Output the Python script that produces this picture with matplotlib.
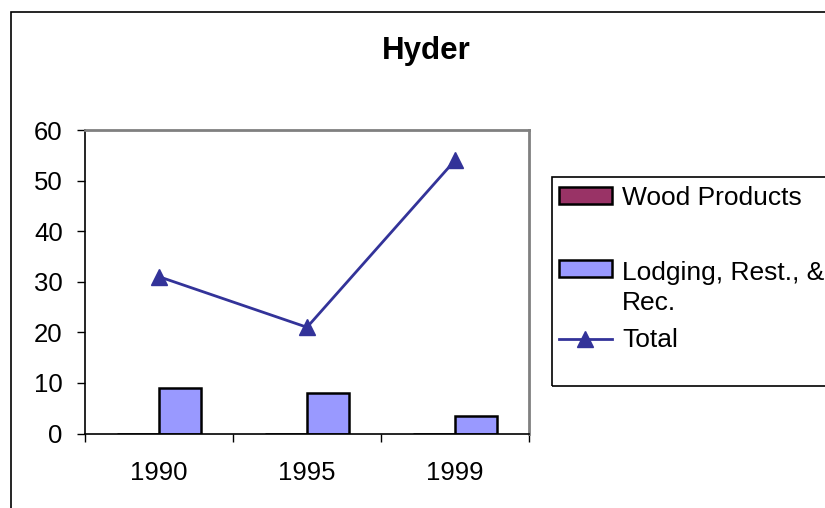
import matplotlib
matplotlib.use("Agg")
import matplotlib.pyplot as plt
from matplotlib.patches import Rectangle, Patch
from matplotlib.lines import Line2D
from matplotlib.legend_handler import HandlerPatch
import numpy as np

plt.rcParams["font.family"] = ["Liberation Sans", "DejaVu Sans"]

years = ["1990", "1995", "1999"]
wood_products = [0, 0, 0]
lodging = [9, 8, 3.5]
total = [31, 21, 54]

W, H = 825, 508
fig = plt.figure(figsize=(W / 100, H / 100), dpi=100)


def fx(px):
    return px / W


def fy(py):
    return 1 - py / H


# chart area border (runs off the right and bottom edges)
fig.patches.append(Rectangle((fx(11), -0.1), 1.2, fy(12) + 0.1, transform=fig.transFigure,
                             fill=False, edgecolor="black", linewidth=1.2))

ax = fig.add_axes([fx(85), fy(433.5), fx(529) - fx(85), fy(130) - fy(433.5)])
x = np.arange(len(years))
bw = 0.286

ax.bar(x - bw / 2, wood_products, bw, color="#993366", edgecolor="black", linewidth=1.8)
ax.bar(x + bw / 2, lodging, bw, color="#9999FF", edgecolor="black", linewidth=1.8)
ax.plot(x, total, color="#333399", linewidth=2, marker="^", markersize=12)

ax.set_xlim(-0.5, 2.5)
ax.set_ylim(0, 60)
ax.set_yticks(range(0, 61, 10))
ax.set_xticks(x)
ax.set_xticklabels(years)
ax.set_xticks([-0.5, 0.5, 1.5, 2.5], minor=True)
ax.tick_params(axis="x", which="major", length=0, pad=20, labelsize=18.5)
ax.tick_params(axis="x", which="minor", length=6, width=1, direction="out", color="black")
ax.tick_params(axis="y", which="major", length=6, width=1, direction="out", pad=10, labelsize=18.5)

for s in ["left", "bottom"]:
    ax.spines[s].set_color("black")
    ax.spines[s].set_linewidth(1.2)
for s in ["top", "right"]:
    ax.spines[s].set_color("#808080")
    ax.spines[s].set_linewidth(2)

fig.text(fx(426), fy(51), "Hyder", ha="center", va="center", fontsize=22.5, fontweight="bold")

# legend frame
fig.patches.append(Rectangle((fx(552), fy(386)), 1.0, fy(177) - fy(386), transform=fig.transFigure,
                             fill=False, edgecolor="black", linewidth=1.2))

h_wood = Patch(facecolor="#993366", edgecolor="black", linewidth=1.8)
h_lodg = Patch(facecolor="#9999FF", edgecolor="black", linewidth=1.8)
h_tot = Line2D([], [], color="#333399", linewidth=2, marker="^", markersize=12)


# Excel puts the swatch next to the first line of a wrapped label
def first_line_patch(legend, orig_handle, xdescent, ydescent, width, height, fontsize):
    return Rectangle((-xdescent, -ydescent + 14), width, height)


leg_kw = dict(frameon=False, fontsize=19, handlelength=2.0, handleheight=0.58,
              handletextpad=0.4, borderpad=0, borderaxespad=0, loc="center left")
leg1 = fig.legend([h_wood], ["Wood Products"], bbox_to_anchor=(fx(559), fy(198)), **leg_kw)
leg2 = fig.legend([h_lodg, h_tot], ["Lodging, Rest., &\nRec.", "Total"],
                  bbox_to_anchor=(fx(559), fy(306.5)), labelspacing=0.5,
                  handler_map={h_lodg: HandlerPatch(patch_func=first_line_patch)}, **leg_kw)
for t in leg2.get_texts():
    t.set_linespacing(1.35)

fig.savefig("out.png", dpi=100)
